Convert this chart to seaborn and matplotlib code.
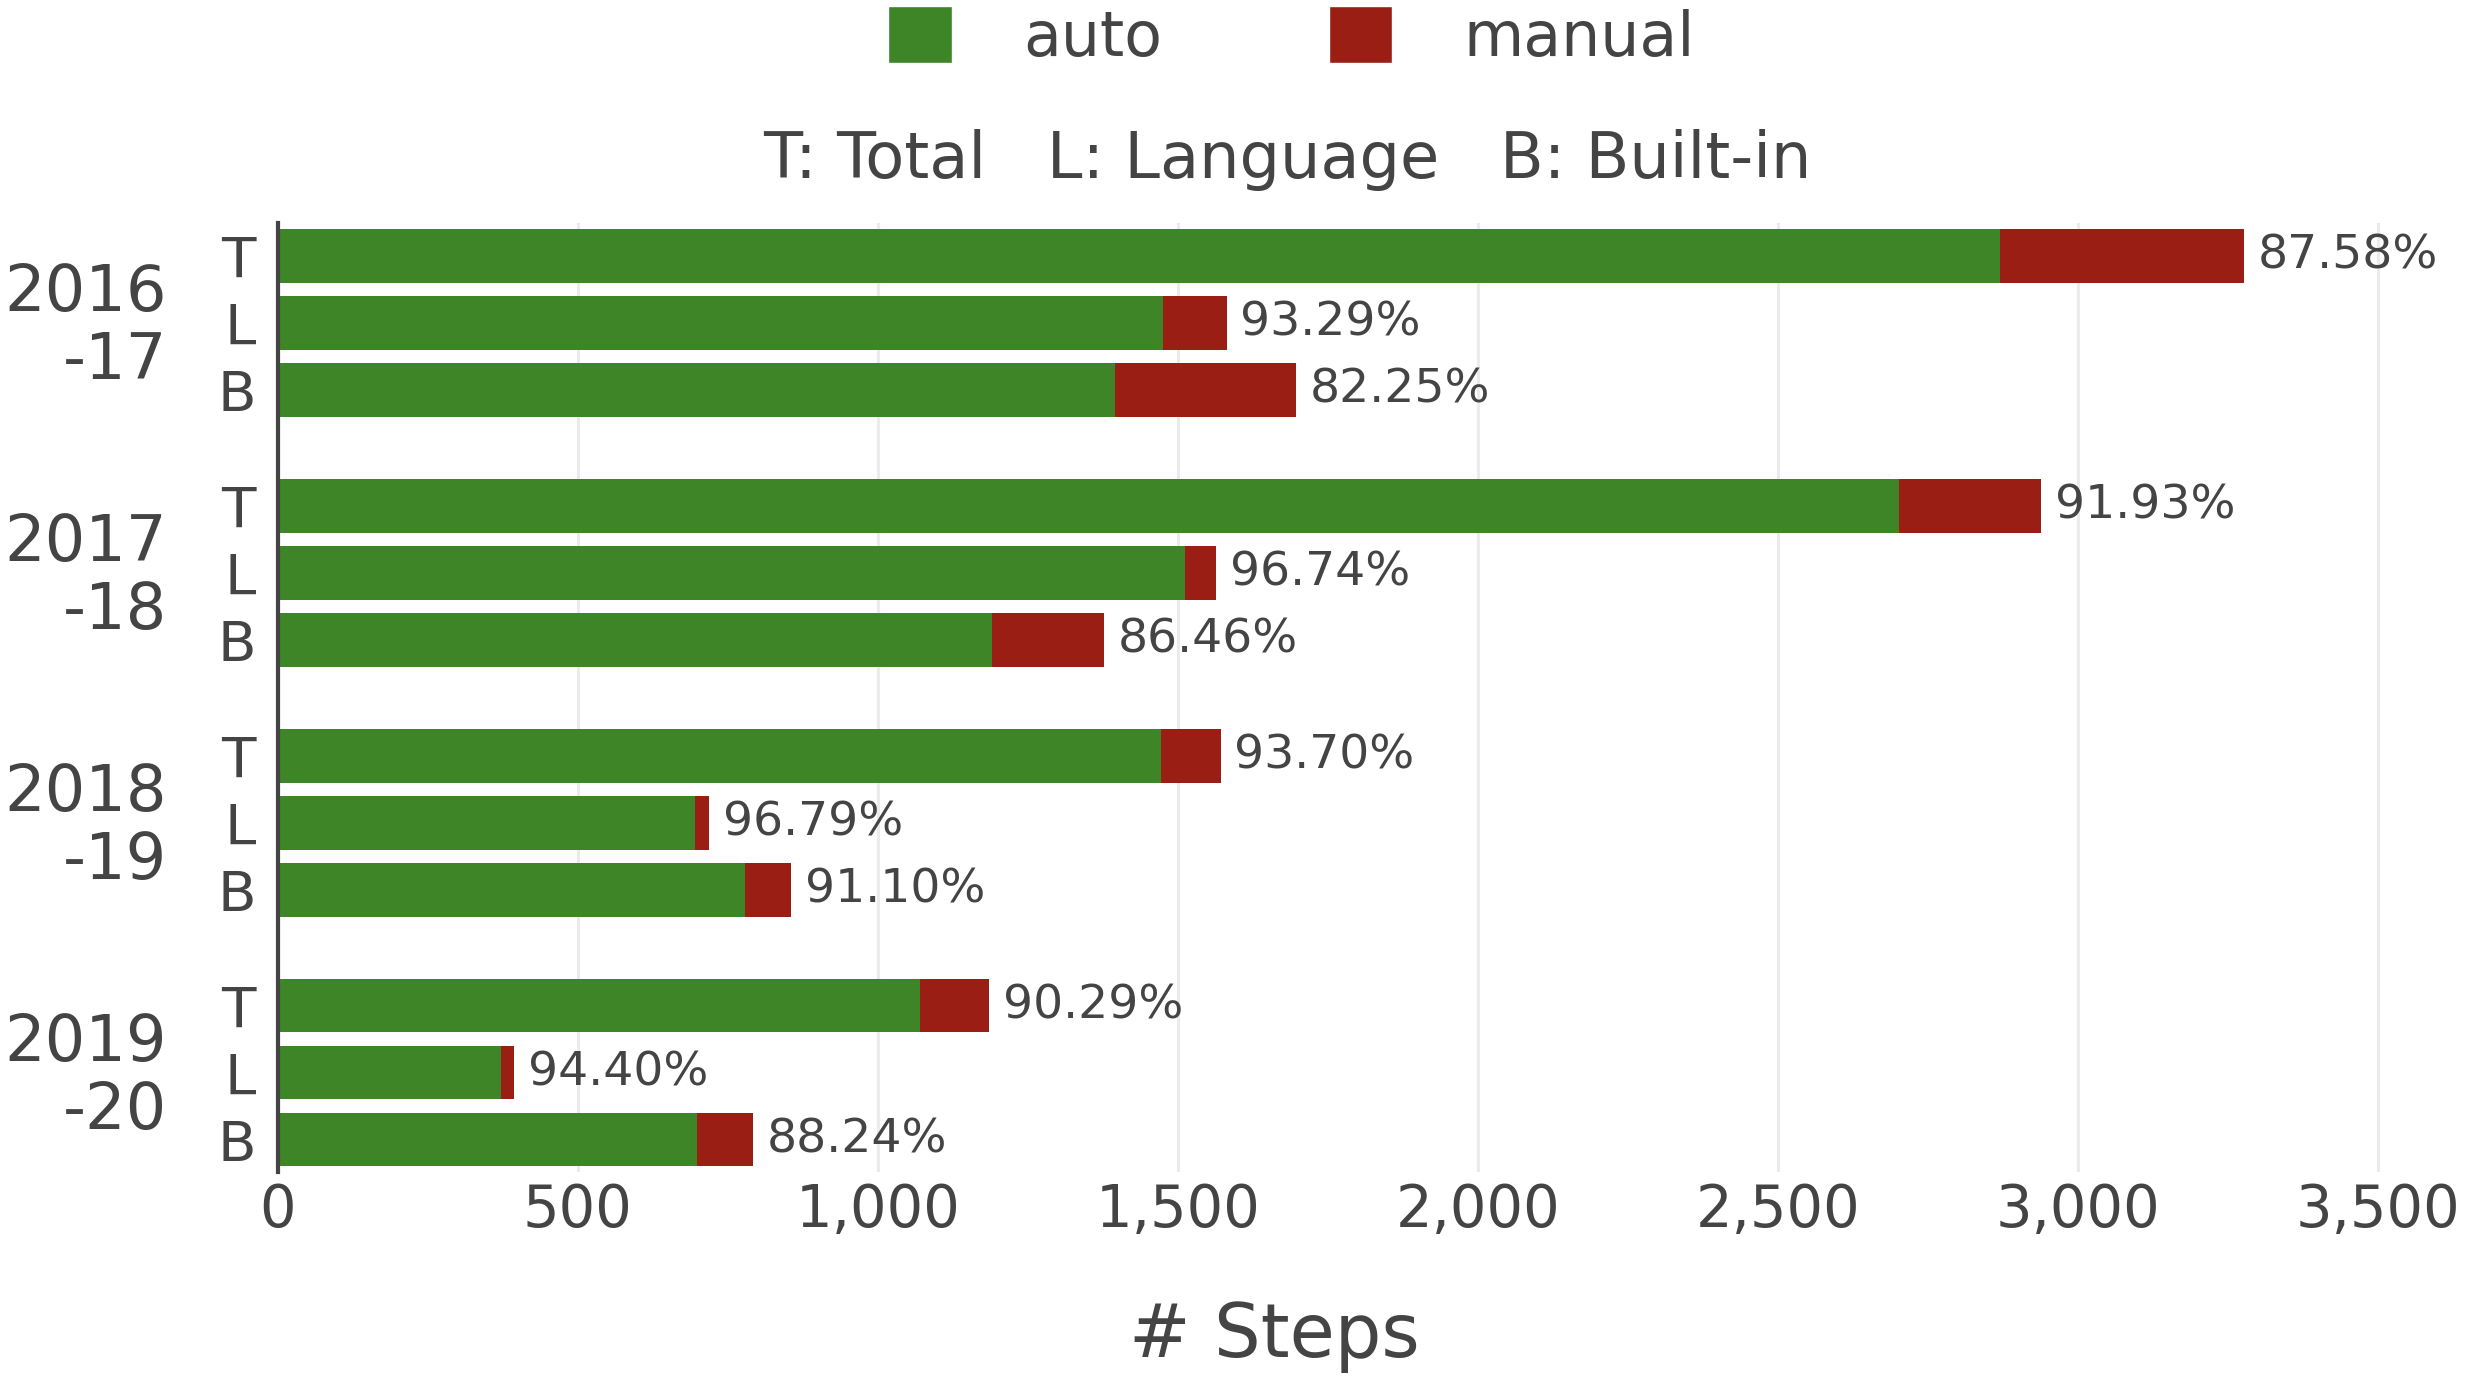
import matplotlib
matplotlib.use("Agg")
import matplotlib.pyplot as plt
import matplotlib.transforms as mtransforms
from matplotlib.patches import Patch
from matplotlib.ticker import FuncFormatter
import seaborn as sns
import pandas as pd

# ---- data ----
years = ["2016\n-17", "2017\n-18", "2018\n-19", "2019\n-20"]
kinds = ["T", "L", "B"]
auto_steps = [2870, 1475, 1395,
              2702, 1512, 1190,
              1472, 695, 779,
              1070, 371, 699]
manual_steps = [407, 106, 301,
                237, 51, 186,
                99, 23, 76,
                115, 22, 93]
pct_labels = ["87.58%", "93.29%", "82.25%",
              "91.93%", "96.74%", "86.46%",
              "93.70%", "96.79%", "91.10%",
              "90.29%", "94.40%", "88.24%"]
x_ticks = [0, 500, 1000, 1500, 2000, 2500, 3000, 3500]

GREEN = "#3d8526"
RED = "#9a1e14"
TXT = "#444444"

group_pitch = 3.731
pos = [g * group_pitch + i for g in range(len(years)) for i in range(len(kinds))]
df = pd.DataFrame({
    "pos": pos,
    "kind": kinds * len(years),
    "auto": auto_steps,
    "total": [a + m for a, m in zip(auto_steps, manual_steps)],
})

sns.set_theme(style="white")
plt.rcParams["font.family"] = ["DejaVu Sans"]
plt.rcParams["text.color"] = TXT

fig = plt.figure(figsize=(24.66, 13.76), dpi=100)
ax = fig.add_axes([0.1127, 0.1483, 0.9765 - 0.1127, 0.8379 - 0.1483])

sns.barplot(data=df, x="total", y="pos", orient="h", native_scale=True,
            color=RED, saturation=1, width=0.8, linewidth=0, errorbar=None, ax=ax)
sns.barplot(data=df, x="auto", y="pos", orient="h", native_scale=True,
            color=GREEN, saturation=1, width=0.8, linewidth=0, errorbar=None, ax=ax)

ax.bar_label(ax.containers[0], labels=pct_labels, padding=10, fontsize=34, color=TXT)

ax.set_xlim(0, 3550)
ax.set_ylim(13.675, -0.49)
ax.set_yticks(pos)
ax.set_yticklabels(kinds * len(years))
ax.set_xticks(x_ticks)
ax.xaxis.set_major_formatter(FuncFormatter(lambda v, p: f"{int(v):,}"))
ax.tick_params(axis="y", length=0, pad=16, labelsize=40.5, labelcolor=TXT)
ax.tick_params(axis="x", length=0, pad=7, labelsize=41.5, labelcolor=TXT)
ax.set_xlabel("")
ax.set_ylabel("")

ax.grid(axis="x", color="#ebebeb", linewidth=2.2)
ax.grid(axis="y", visible=False)
ax.set_axisbelow(True)
for s in ["top", "right", "bottom"]:
    ax.spines[s].set_visible(False)
ax.spines["left"].set_color(TXT)
ax.spines["left"].set_linewidth(3)
ax.spines["left"].set_zorder(5)

trans = mtransforms.blended_transform_factory(ax.transAxes, ax.transData)
for g, label in enumerate(years):
    ax.text(-0.052, g * group_pitch + 1.06, label, transform=trans, ha="right",
            va="center", fontsize=46, linespacing=1.12, color=TXT, multialignment="right")

fig.text(0.522, 0.8706, "T: Total   L: Language   B: Built-in", ha="center",
         va="baseline", fontsize=46, color=TXT)
fig.text(0.5168, 0.0138, "# Steps", ha="center", va="baseline", fontsize=53, color=TXT)

handles = [Patch(facecolor=GREEN, label="auto"), Patch(facecolor=RED, label="manual")]
fig.legend(handles=handles, loc="center", bbox_to_anchor=(0.5237, 0.9727), ncol=2,
           frameon=False, fontsize=44.5, handlelength=1.03, handleheight=1.03,
           handletextpad=1.15, columnspacing=2.7, labelcolor=TXT)

fig.savefig("out.png", dpi=100)
